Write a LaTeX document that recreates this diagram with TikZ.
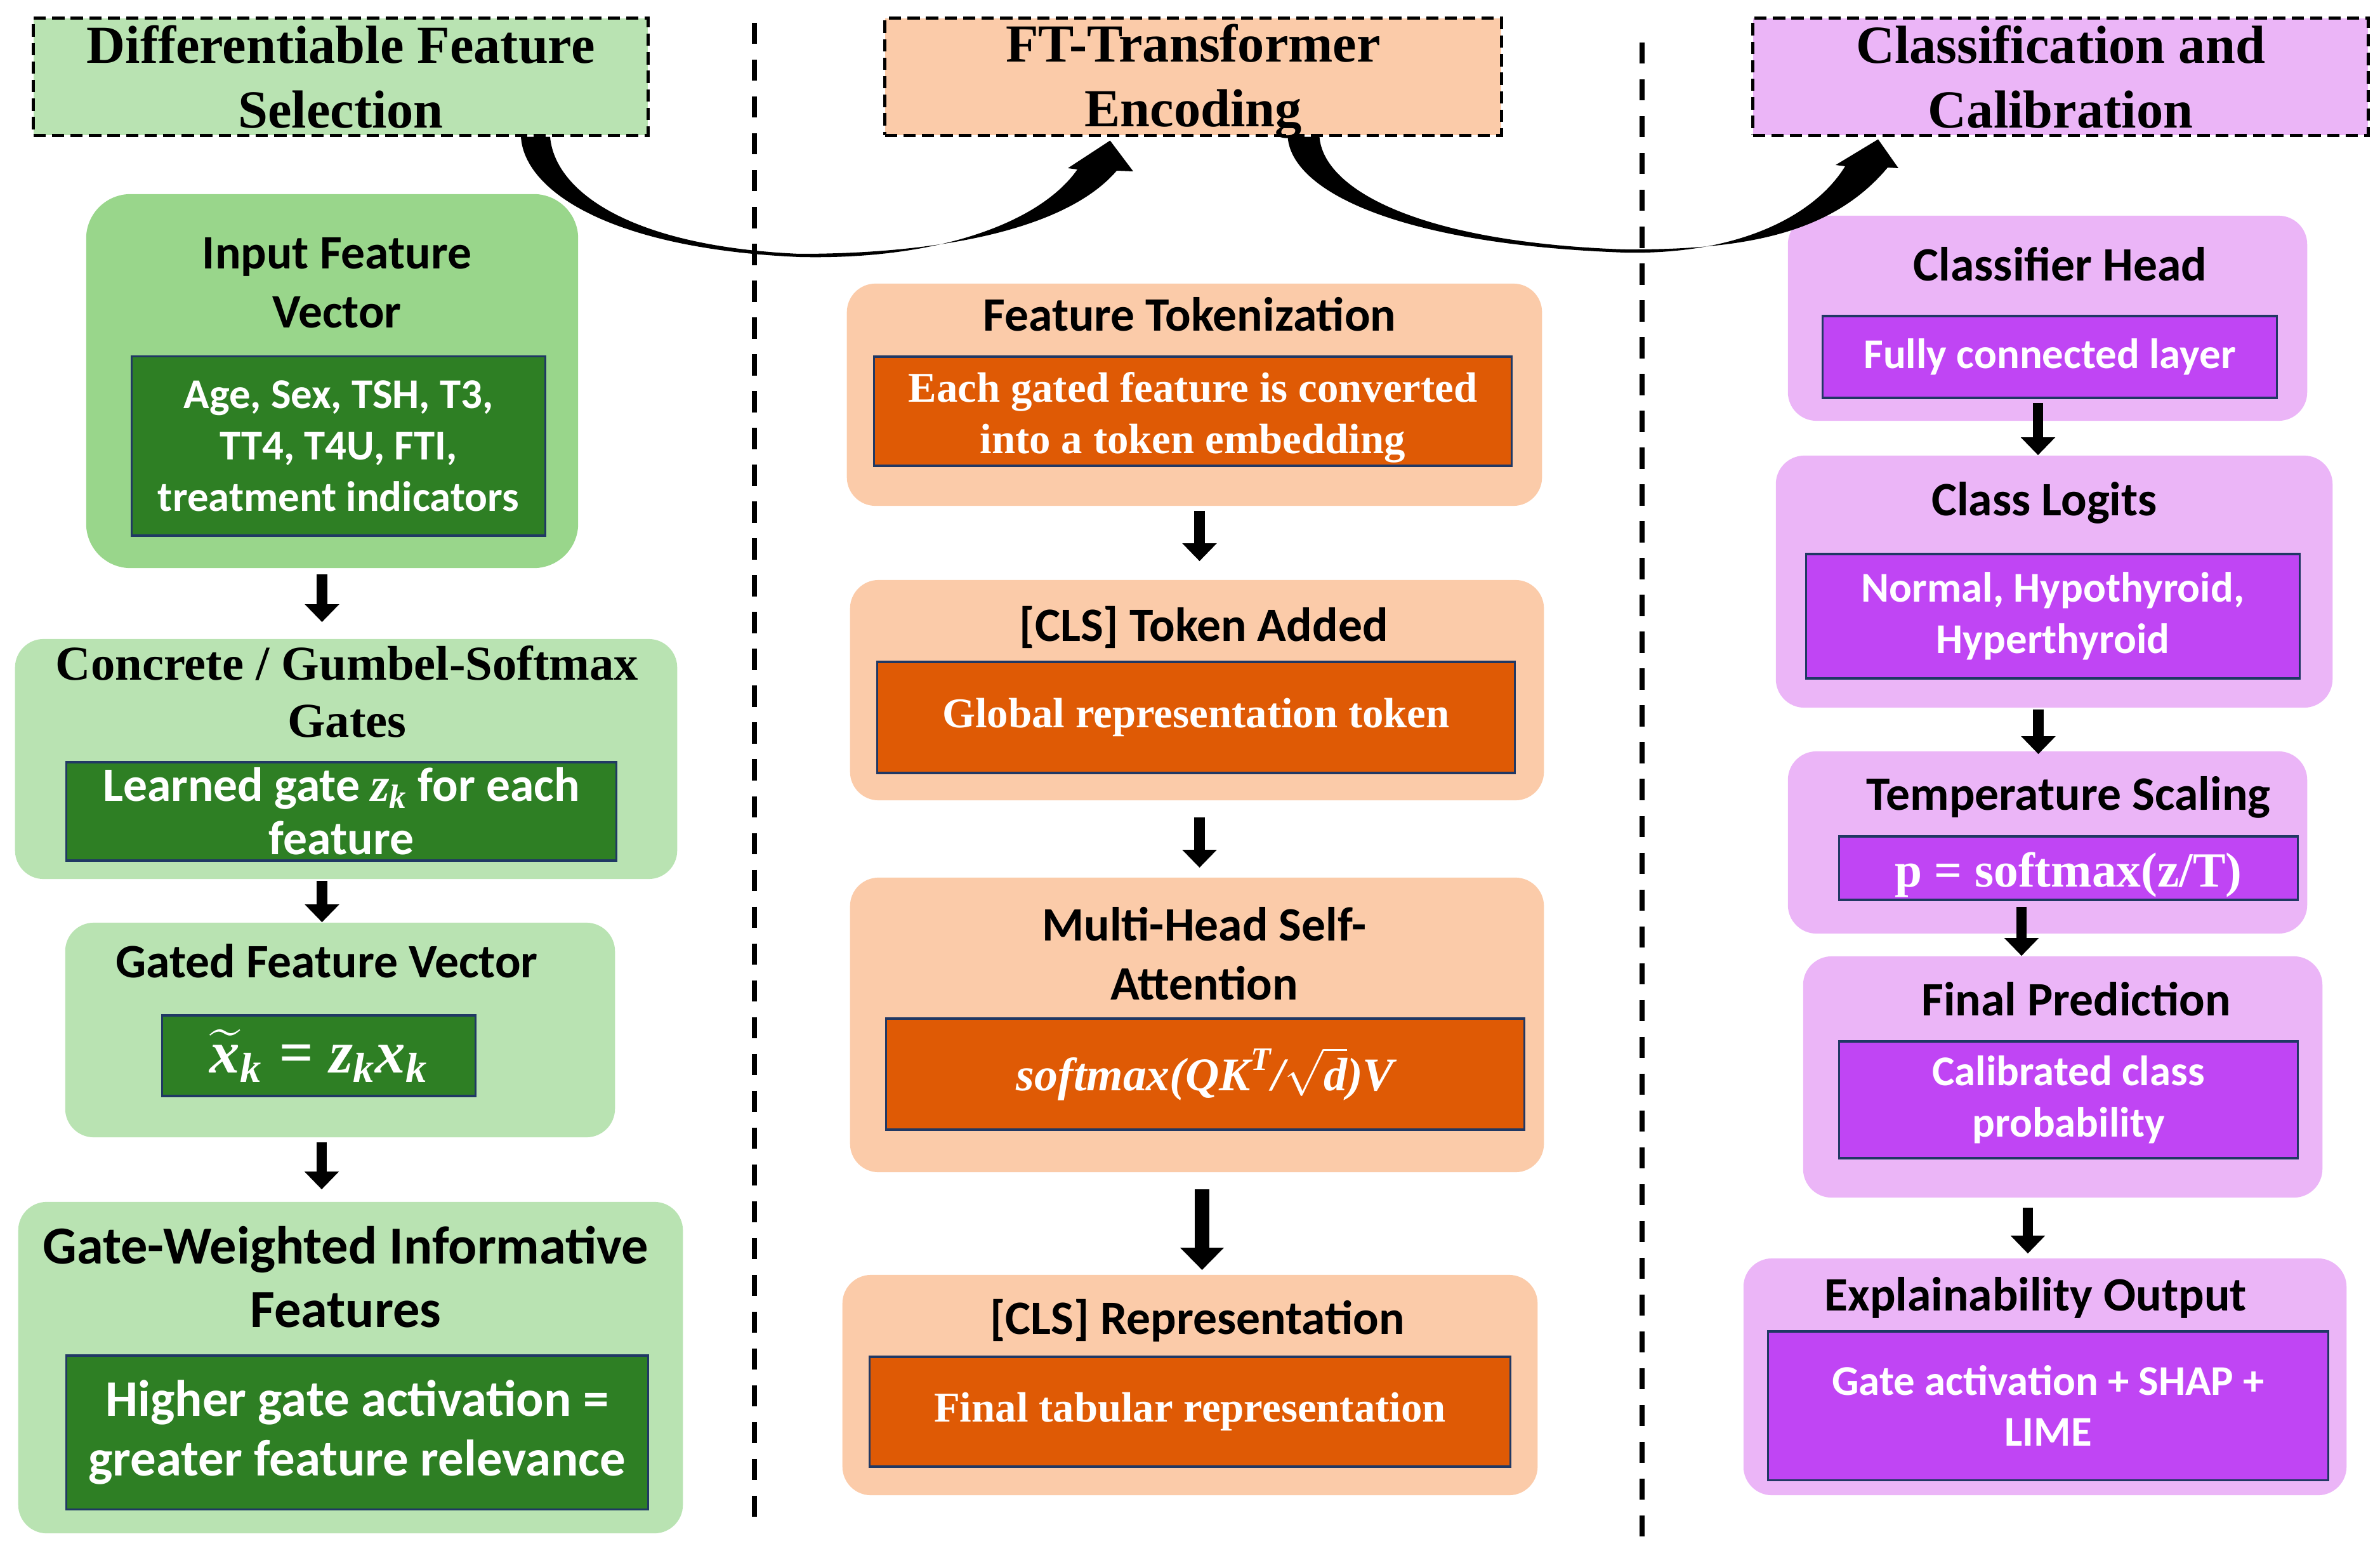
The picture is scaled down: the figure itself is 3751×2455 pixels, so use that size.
\RequirePackage{fix-cm}
\documentclass[tikz,border=0pt]{standalone}
\usepackage{amsmath}
\usepackage{fontspec}
\setmainfont{Liberation Serif}
\newfontfamily\carlito{Carlito}
\usetikzlibrary{arrows.meta,calc}
\definecolor{cGreenHi}{HTML}{99D68B}
\definecolor{cGreen}{HTML}{B9E3B2}
\definecolor{cGreenDk}{HTML}{2E7F24}
\definecolor{cPeach}{HTML}{FBCBA9}
\definecolor{cOrange}{HTML}{DF5A05}
\definecolor{cLilac}{HTML}{EBB5F7}
\definecolor{cViolet}{HTML}{C045F4}
\definecolor{cEdge}{HTML}{203864}
\newcommand{\bfit}[1]{\text{\rmfamily\bfseries\itshape #1}}
\newcommand{\gatedform}{\fontsize{27}{30}\selectfont$\widetilde{\bfit{x}}_{\bfit{k}} \mathrel{\bfit{=}} \bfit{z}_{\bfit{k}}\bfit{x}_{\bfit{k}}$}
\newcommand{\attnform}{\fontsize{21}{24}\selectfont$\bfit{softmax(QK}^{\bfit{T}}\bfit{/}\sqrt{\bfit{d}}\bfit{)V}$}
\tikzset{
  hdr/.style={draw=black,line width=1.4pt,dash pattern=on 5.5pt off 2.8pt,inner sep=0pt,align=center,font=\fontsize{24}{29}\selectfont\bfseries},
  stage/.style={rounded corners=0.45cm,inner sep=0pt},
  ttl/.style={align=center,font={\carlito\fontsize{21.5}{26.5}\selectfont\bfseries}},
  inbox/.style={draw=cEdge,line width=0.9pt,inner sep=0pt,align=center,text=white},
  wsans/.style={font={\carlito\fontsize{19}{23}\selectfont\bfseries}},
  wserif/.style={font=\fontsize{19}{23}\selectfont\bfseries},
  darr/.style={-{Triangle[width=15pt,length=8pt]},line width=4.8pt},
  divider/.style={line width=2.4pt,dash pattern=on 9.5pt off 7pt},
  curvearr/.style={fill=black},
}

\begin{document}
\begin{tikzpicture}[x=0.01cm,y=-0.01cm]
  \useasboundingbox (0,0) rectangle (3751,2455);
  % column separators
  \draw[divider] (1189,36) -- (1189,2404);
  \draw[divider] (2588,67) -- (2588,2428);
  % stage headers
  \node[hdr,fill=cGreen,minimum width=9.68cm,minimum height=1.84cm] (hsel) at (537,121) {Differentiable Feature\\Selection};
  \node[hdr,fill=cPeach,minimum width=9.71cm,minimum height=1.84cm] (henc) at (1880.5,121) {};
  \node[font=\fontsize{24}{29}\selectfont\bfseries,align=center] (hencT) at (1880.5,128) {FT-Transformer\\Encoding};
  \node[hdr,fill=cLilac,minimum width=9.69cm,minimum height=1.84cm] (hcls) at (3247.5,121) {Classification and\\Calibration};
  % feature selection
  \node[stage,fill=cGreenHi,rounded corners=0.7cm,minimum width=7.75cm,minimum height=5.89cm] (inp) at (523.5,600.5) {};
  \node[ttl] (inpT) at (531,446) {Input Feature\\Vector};
  \node[inbox,fill=cGreenDk,wsans,minimum width=6.51cm,minimum height=2.82cm] (inpB) at (533.5,703) {Age, Sex, TSH, T3,\\TT4, T4U, FTI,\\treatment indicators};
  \node[stage,fill=cGreen,minimum width=10.43cm,minimum height=3.78cm] (gum) at (545.5,1196) {};
  \node[ttl,font=\fontsize{21.8}{25.5}\selectfont\bfseries] (gumT) at (547,1090) {Concrete / Gumbel-Softmax\\Gates};
  \node[inbox,fill=cGreenDk,font={\carlito\fontsize{21.5}{24}\selectfont\bfseries},minimum width=8.66cm,minimum height=1.55cm] (gumB) at (538,1278.5) {Learned gate $\bfit{z}_{\bfit{k}}$ for each\\feature};
  \node[stage,fill=cGreen,minimum width=8.66cm,minimum height=3.38cm] (gfv) at (536,1623) {};
  \node[ttl] (gfvT) at (515,1514) {Gated Feature Vector};
  \node[inbox,fill=cGreenDk,minimum width=4.93cm,minimum height=1.27cm] (gfvB) at (502.5,1663.5) {\gatedform};
  \node[stage,fill=cGreen,minimum width=10.47cm,minimum height=5.22cm] (gwi) at (552.5,2155) {};
  \node[ttl,font={\carlito\fontsize{24}{28.6}\selectfont\bfseries}] (gwiT) at (545,2012) {Gate-Weighted Informative\\Features};
  \node[inbox,fill=cGreenDk,font={\carlito\fontsize{23}{26.6}\selectfont\bfseries},minimum width=9.16cm,minimum height=2.42cm] (gwiB) at (563,2257) {Higher gate activation =\\greater feature relevance};
  % transformer encoding
  \node[stage,fill=cPeach,minimum width=10.95cm,minimum height=3.5cm] (tok) at (1882.5,622) {};
  \node[ttl] (tokT) at (1875,495) {Feature Tokenization};
  \node[inbox,fill=cOrange,wserif,minimum width=10.04cm,minimum height=1.72cm] (tokB) at (1880,648) {};
  \node[wserif,text=white,align=center] (tokS) at (1880,658) {Each gated feature is converted\\into a token embedding};
  \node[stage,fill=cPeach,minimum width=10.93cm,minimum height=3.47cm] (cls) at (1886.5,1087.5) {};
  \node[ttl] (clsT) at (1897,988) {[CLS] Token Added};
  \node[inbox,fill=cOrange,wserif,minimum width=10.04cm,minimum height=1.75cm] (clsB) at (1885,1130.5) {Global representation token};
  \node[stage,fill=cPeach,minimum width=10.93cm,minimum height=4.64cm] (mha) at (1886.5,1615) {};
  \node[ttl] (mhaT) at (1898,1503) {Multi-Head Self-\\Attention};
  \node[inbox,fill=cOrange,text=white,minimum width=10.05cm,minimum height=1.75cm] (mhaB) at (1899.5,1692.5) {\attnform};
  \node[stage,fill=cPeach,minimum width=10.95cm,minimum height=3.47cm] (rep) at (1875.5,2182.5) {};
  \node[ttl] (repT) at (1887,2081) {[CLS] Representation};
  \node[inbox,fill=cOrange,wserif,minimum width=10.09cm,minimum height=1.73cm] (repB) at (1875.5,2224.5) {Final tabular representation};
  % classification and calibration
  \node[stage,fill=cLilac,minimum width=8.18cm,minimum height=3.23cm] (head) at (3227,501.5) {};
  \node[ttl] (headT) at (3247,416) {Classifier Head};
  \node[inbox,fill=cViolet,wsans,minimum width=7.15cm,minimum height=1.29cm] (headB) at (3230.5,562.5) {Fully connected layer};
  \node[stage,fill=cLilac,minimum width=8.77cm,minimum height=3.97cm] (logit) at (3237.5,916.5) {};
  \node[ttl] (logitT) at (3222,792) {Class Logits};
  \node[inbox,fill=cViolet,wsans,minimum width=7.77cm,minimum height=1.96cm] (logitB) at (3235.5,971) {Normal, Hypothyroid,\\Hyperthyroid};
  \node[stage,fill=cLilac,minimum width=8.18cm,minimum height=2.87cm] (temp) at (3227,1327.5) {};
  \node[ttl] (tempT) at (3260,1256) {Temperature Scaling};
  \node[inbox,fill=cViolet,minimum width=7.22cm,minimum height=1.0cm] (tempB) at (3260,1368) {};
  \node[font=\fontsize{22}{26}\selectfont\bfseries,text=white] (tempS) at (3260,1378) {p = softmax(z/T)};
  \node[stage,fill=cLilac,minimum width=8.18cm,minimum height=3.8cm] (pred) at (3251,1697) {};
  \node[ttl] (predT) at (3272,1574) {Final Prediction};
  \node[inbox,fill=cViolet,wsans,minimum width=7.22cm,minimum height=1.84cm] (predB) at (3260,1733) {Calibrated class\\probability};
  \node[stage,fill=cLilac,minimum width=9.5cm,minimum height=3.73cm] (expl) at (3223,2169.5) {};
  \node[ttl] (explT) at (3208,2045) {Explainability Output};
  \node[inbox,fill=cViolet,wsans,minimum width=8.82cm,minimum height=2.34cm] (explB) at (3228,2215) {Gate activation + SHAP +\\LIME};
  % flow inside the columns
  \foreach \a/\b/\dx/\s/\e in {inp/gum/-16/9/26, gum/gfv/-38/2/0, gfv/gwi/-29/7/19,
      tok/cls/8/7/29, cls/mha/4/26/15,
      head/logit/-15/-29/0, logit/temp/-25/2/-5, temp/pred/-41/-43/0, pred/expl/-55/15/7}
    \draw[darr] ($(\a.south)+(\dx,\s)$) -- ($(\a.south |- \b.north)+(\dx,-\e)$);
  \draw[darr,line width=6.5pt,-{Triangle[width=19pt,length=10pt]}] ($(mha.south)+(8,26)$) -- ($(mha.south |- rep.north)+(8,-7)$);
  % curved arrows between the stages
  \fill[curvearr] ($(hsel.south)+(284,0)$) .. controls (826,300) and (960,392) .. (1260,405)
    .. controls (1480,410) and (1640,350) .. (1698,267)
    -- (1683,265) -- ($(henc.south)+(-131,6)$) -- (1786,270) -- (1760,269)
    .. controls (1680,362) and (1480,400) .. (1260,400)
    .. controls (990,388) and (874,300) .. ($(hsel.south)+(330,0)$) -- cycle;
  \fill[curvearr] ($(henc.south)+(149,0)$) .. controls (2035,300) and (2200,385) .. (2560,398)
    .. controls (2740,402) and (2860,340) .. (2908,262)
    -- (2893,260) -- ($(hcls.south)+(-287.5,4)$) -- (2992,265) -- (2975,264)
    .. controls (2885,372) and (2740,394) .. (2560,393)
    .. controls (2240,382) and (2086,300) .. ($(henc.south)+(199,0)$) -- cycle;
\end{tikzpicture}
\end{document}
